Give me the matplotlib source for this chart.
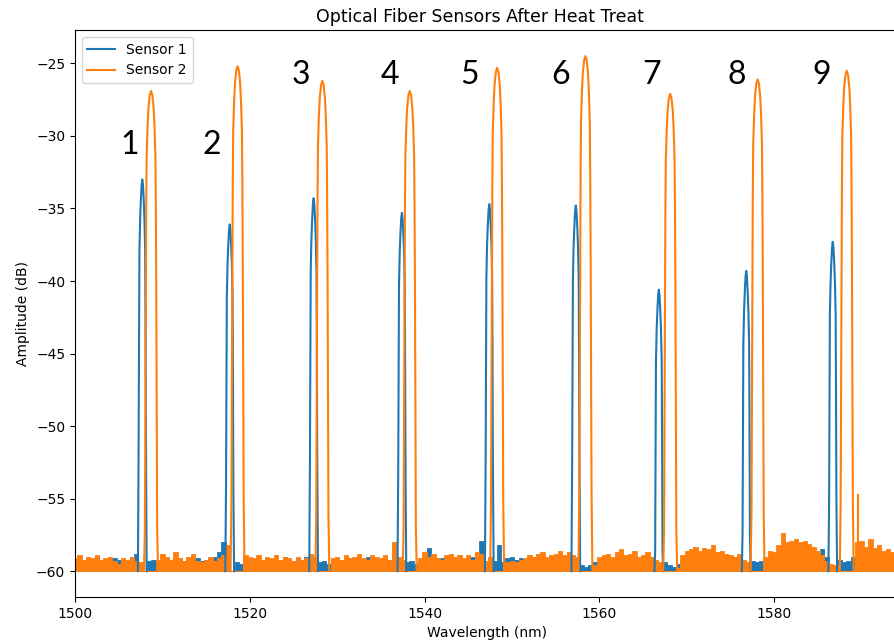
import numpy as np
import matplotlib.pyplot as plt

# peak centres (nm) and peak tops (dB)
s1_center = [1507.7, 1517.7, 1527.3, 1537.4, 1547.4, 1557.3, 1566.8, 1576.8, 1586.7]
s1_peak = [-33.0, -36.1, -34.3, -35.3, -34.7, -34.8, -40.6, -39.3, -37.3]
s2_center = [1508.7, 1518.6, 1528.3, 1538.3, 1548.3, 1558.4, 1568.1, 1578.1, 1588.3]
s2_peak = [-26.9, -25.2, -26.2, -26.9, -25.3, -24.5, -27.1, -26.1, -25.5]

# shape of a peak: offset from centre (nm) and drop from the top (dB)
s1_dx = [-0.5, -0.42, -0.37, -0.33, -0.25, -0.17, -0.08, 0.0, 0.08, 0.17, 0.25, 0.33, 0.37, 0.42, 0.5]
s1_dy = [-30, -18, -10, -5, -2.8, -1.5, -0.4, 0, -0.4, -1.5, -2.8, -5, -10, -18, -30]
s2_dx = [-0.8, -0.7, -0.65, -0.6, -0.55, -0.5, -0.4, -0.3, -0.15, 0.0,
         0.15, 0.3, 0.4, 0.5, 0.55, 0.6, 0.65, 0.7, 0.8]
s2_dy = [-40, -30, -22, -14, -8, -4.5, -2.5, -1.2, -0.3, 0,
         -0.3, -1.2, -2.5, -4.5, -8, -14, -22, -30, -40]

# small extra spike next to peak 9 of sensor 2
s2_spike_wl = [1589.6]
s2_spike_db = [-54.7]

# noise floor, every 0.5 nm from 1500 to 1594 nm
noise_wl = np.arange(1500, 1594.01, 0.5)
s1_noise = [
    -59.3, -59.2, -59.4, -59.1, -59.3, -59.0, -59.4, -59.2, -59.3, -59.1,
    -59.2, -59.4, -59.3, -59.0, -58.8, -60.0, -60.0, -59.3, -59.2, -59.4,
    -59.3, -59.4, -59.2, -59.4, -59.1, -59.3, -59.2, -59.4, -59.1, -59.3,
    -59.2, -59.1, -59.0, -58.7, -58.0, -60.0, -60.0, -59.4, -59.5, -59.2,
    -59.3, -59.4, -59.2, -59.3, -59.1, -59.4, -59.2, -59.3, -59.0, -59.2,
    -59.3, -59.1, -59.2, -59.0, -60.0, -60.0, -59.4, -59.3, -59.5, -59.3,
    -59.2, -59.4, -59.3, -59.1, -59.3, -59.2, -59.4, -59.0, -59.3, -59.2,
    -59.3, -59.1, -59.2, -58.9, -60.0, -60.0, -59.4, -59.3, -59.5, -59.2,
    -59.0, -58.4, -59.2, -59.3, -59.1, -59.4, -59.2, -59.3, -59.1, -59.2,
    -59.3, -59.0, -58.8, -57.9, -60.0, -60.0, -59.3, -58.2, -59.4, -59.1,
    -59.0, -59.2, -59.1, -59.3, -59.2, -59.4, -59.3, -59.2, -59.4, -59.3,
    -59.2, -59.3, -59.4, -59.0, -60.0, -60.0, -59.6, -59.7, -59.6, -59.4,
    -59.3, -59.2, -59.4, -59.3, -59.1, -59.3, -59.2, -59.4, -59.3, -59.2,
    -59.3, -59.1, -59.2, -60.0, -60.0, -59.4, -59.6, -59.7, -59.5, -59.3,
    -59.2, -59.3, -59.1, -59.4, -59.2, -59.3, -59.4, -59.2, -59.3, -59.1,
    -59.2, -59.0, -58.9, -60.0, -60.0, -59.3, -59.4, -59.3, -59.6, -59.3,
    -59.3, -59.2, -59.4, -59.3, -59.2, -59.4, -59.1, -59.3, -59.2, -59.0,
    -58.8, -58.5, -59.0, -60.0, -60.0, -59.2, -59.4, -59.3, -59.0, -59.4,
    -59.5, -59.3, -59.4, -59.2, -59.5, -59.3, -59.4, -59.2, -59.3,
]
s2_noise = [
    -59.1, -58.9, -59.2, -59.0, -59.1, -58.9, -59.2, -59.1, -59.0, -59.3,
    -59.5, -59.1, -59.2, -59.0, -59.3, -59.4, -60.0, -60.0, -60.0, -59.2,
    -58.8, -59.0, -59.2, -58.7, -59.1, -59.3, -59.0, -58.8, -59.3, -59.4,
    -59.2, -59.0, -59.3, -59.1, -58.9, -58.2, -60.0, -60.0, -60.0, -58.9,
    -59.0, -59.1, -58.9, -59.2, -59.0, -59.1, -58.9, -59.2, -59.0, -59.1,
    -59.3, -59.0, -59.2, -59.1, -58.8, -59.0, -60.0, -60.0, -60.0, -59.1,
    -59.0, -59.2, -58.9, -59.1, -59.0, -58.8, -59.1, -59.2, -58.9, -59.0,
    -59.1, -58.9, -59.2, -58.0, -59.0, -59.2, -60.0, -60.0, -60.0, -59.1,
    -58.7, -59.0, -58.8, -59.1, -59.2, -58.9, -58.8, -59.0, -58.9, -59.1,
    -58.9, -59.2, -58.7, -58.8, -59.3, -59.0, -60.0, -60.0, -60.0, -59.4,
    -59.3, -59.4, -59.2, -59.1, -58.9, -59.0, -58.8, -58.7, -59.0, -58.9,
    -58.8, -58.6, -58.9, -58.7, -58.9, -59.0, -60.0, -60.0, -60.0, -59.6,
    -59.0, -58.9, -58.8, -59.0, -58.7, -58.5, -58.9, -58.8, -58.6, -59.0,
    -58.9, -58.7, -59.0, -59.2, -59.4, -60.0, -60.0, -60.0, -59.8, -58.9,
    -58.6, -58.5, -58.3, -58.6, -58.4, -58.5, -58.2, -58.7, -58.6, -58.8,
    -58.9, -59.0, -58.8, -59.2, -59.4, -60.0, -60.0, -60.0, -59.0, -58.6,
    -58.7, -58.2, -57.4, -58.0, -57.9, -57.8, -58.0, -57.9, -58.1, -58.3,
    -58.6, -58.9, -59.3, -59.5, -59.6, -60.0, -60.0, -60.0, -60.0, -58.0,
    -57.9, -58.3, -57.8, -58.4, -58.2, -58.6, -58.5, -58.7, -58.6,
]

tick_x = [1500, 1520, 1540, 1560, 1580]
tick_y = [-60, -55, -50, -45, -40, -35, -30, -25]
labels = ['1', '2', '3', '4', '5', '6', '7', '8', '9']

FLOOR = -60.0


def peak_line(centers, peaks, dx, dy):
    # join all peaks of one sensor into one line, split by NaN
    xs, ys = [], []
    for c, p in zip(centers, peaks):
        xs += [c + d for d in dx] + [np.nan]
        ys += [max(p + d, FLOOR) for d in dy] + [np.nan]
    return xs, ys


fig = plt.figure(figsize=(8.95, 6.44), dpi=100)
ax = fig.add_axes([75 / 895, 1 - 597 / 644, 825 / 895, 567 / 644])

blue = '#1f77b4'
orange = '#ff7f0e'

# Sensor 1
ax.fill_between(noise_wl, FLOOR, s1_noise, step='mid', color=blue, lw=0.6)
x1, y1 = peak_line(s1_center, s1_peak, s1_dx, s1_dy)
ax.plot(x1, y1, color=blue, lw=1.5, label='Sensor 1')

# Sensor 2
ax.fill_between(noise_wl, FLOOR, s2_noise, step='mid', color=orange, lw=0.6)
x2, y2 = peak_line(s2_center, s2_peak, s2_dx, s2_dy)
ax.plot(x2, y2, color=orange, lw=1.5, label='Sensor 2')
ax.vlines(s2_spike_wl, FLOOR, s2_spike_db, color=orange, lw=1.5)

ax.set_xlim(1500, 1500 + 825 / 8.74)
ax.set_ylim(-61.78, -22.7)
ax.set_xticks(tick_x)
ax.set_yticks(tick_y)
ax.tick_params(labelsize=10)
ax.set_xlabel('Wavelength (nm)', fontsize=10)
ax.set_ylabel('Amplitude (dB)', fontsize=10)
ax.set_title('Optical Fiber Sensors After Heat Treat', fontsize=12.5, x=0.491)
ax.legend(loc='upper left', fontsize=10)

# peak numbers
label_x = [1506.3, 1515.7, 1525.8, 1536.0, 1545.2, 1555.5, 1566.0, 1575.7, 1585.4]
label_y = [-30.6, -30.6, -25.8, -25.8, -25.8, -25.8, -25.8, -25.8, -25.8]
for t, lx, ly in zip(labels, label_x, label_y):
    ax.text(lx, ly, t, fontsize=23, family='Lato', ha='center', va='center', color='black')

plt.savefig('out.png', dpi=100)
